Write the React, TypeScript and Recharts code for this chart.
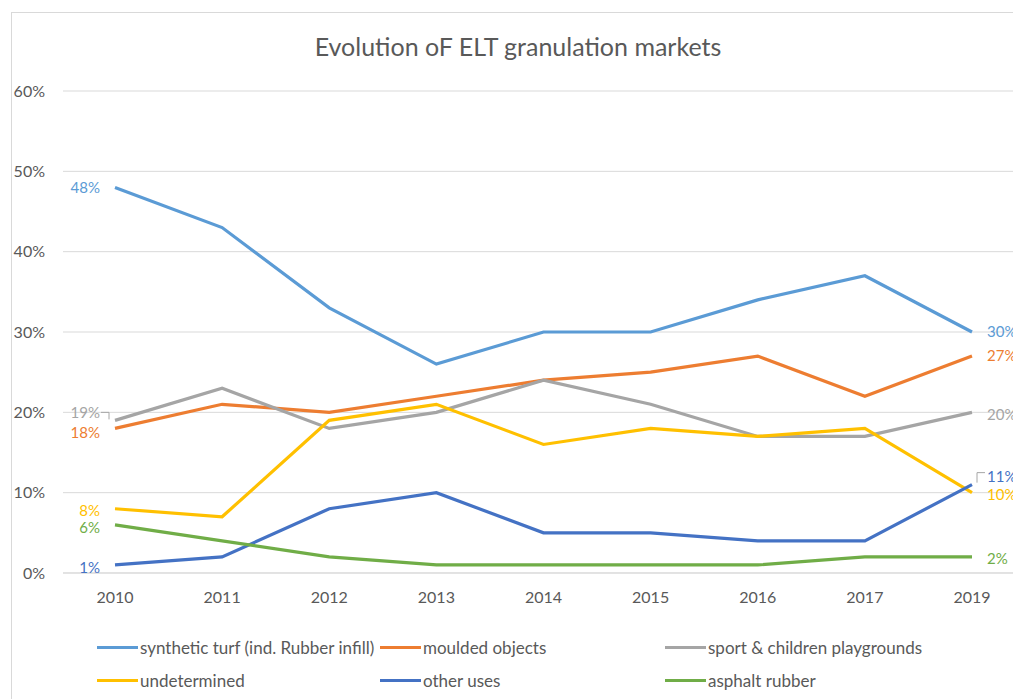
import React from 'react'
import { LineChart, Line, XAxis, YAxis, CartesianGrid, LabelList } from 'recharts'

const years = ['2010', '2011', '2012', '2013', '2014', '2015', '2016', '2017', '2019']
const syntheticTurf = [48, 43, 33, 26, 30, 30, 34, 37, 30]
const mouldedObjects = [18, 21, 20, 22, 24, 25, 27, 22, 27]
const sportPlaygrounds = [19, 23, 18, 20, 24, 21, 17, 17, 20]
const undetermined = [8, 7, 19, 21, 16, 18, 17, 18, 10]
const otherUses = [1, 2, 8, 10, 5, 5, 4, 4, 11]
const asphaltRubber = [6, 4, 2, 1, 1, 1, 1, 2, 2]
const yTicks = [0, 10, 20, 30, 40, 50, 60]

const chartData = years.map((year, i) => ({
  year,
  turf: syntheticTurf[i],
  moulded: mouldedObjects[i],
  sport: sportPlaygrounds[i],
  undetermined: undetermined[i],
  other: otherUses[i],
  asphalt: asphaltRubber[i],
}))

const FONT = 'Lato, "Open Sans", sans-serif'
const TEXT = '#595959'

const series = [
  { key: 'turf', name: 'synthetic turf (ind. Rubber infill)', color: '#5B9BD5', dyL: 0, dyR: 0 },
  { key: 'moulded', name: 'moulded objects', color: '#ED7D31', dyL: 4, dyR: 0 },
  { key: 'sport', name: 'sport & children playgrounds', color: '#A5A5A5', dyL: -8, dyR: 2 },
  { key: 'undetermined', name: 'undetermined', color: '#FFC000', dyL: 2, dyR: 2 },
  { key: 'other', name: 'other uses', color: '#4472C4', dyL: 3, dyR: -8 },
  { key: 'asphalt', name: 'asphalt rubber', color: '#70AD47', dyL: 3, dyR: 2 },
]

const last = years.length - 1

// value labels only on the first and last point, like the Excel original
function endLabel(color: string, dyL: number, dyR: number, key: string) {
  return (props: any) => {
    const { x, y, index, value } = props
    if (index !== 0 && index !== last) return null
    const isLeft = index === 0
    const ly = y + (isLeft ? dyL : dyR)
    const tx = isLeft ? x - 15 : x + 15
    let leader = null
    if (isLeft && key === 'sport') {
      leader = <path d={`M ${x - 14} ${ly} H ${x - 6} V ${y - 1}`} stroke="#A6A6A6" fill="none" strokeWidth={1} />
    }
    if (!isLeft && key === 'other') {
      leader = <path d={`M ${x + 5} ${y - 2} V ${ly - 4} H ${x + 13}`} stroke="#A6A6A6" fill="none" strokeWidth={1} />
    }
    return (
      <g>
        {leader}
        <text x={tx} y={ly} dy="0.35em" textAnchor={isLeft ? 'end' : 'start'} fill={color} fontSize={15} fontFamily={FONT}>
          {value}%
        </text>
      </g>
    )
  }
}

const legendCols = [97, 380, 665]
const legendRows = [647, 680]

export default function App() {
  return (
    <div style={{ position: 'absolute', left: 0, top: 0, width: 1013, height: 699, overflow: 'hidden', background: '#fff' }}>
      <div style={{ position: 'absolute', left: 11, top: 12, width: 1100, height: 800, border: '1px solid #d9d9d9' }} />
      <div
        style={{
          position: 'absolute',
          left: 0,
          width: 1036,
          top: 31,
          lineHeight: '30px',
          textAlign: 'center',
          fontFamily: FONT,
          fontSize: 25,
          color: TEXT,
        }}
      >
        Evolution oF ELT granulation markets
      </div>
      <div style={{ position: 'absolute', left: 0, top: 0 }}>
        <LineChart width={1013} height={699} data={chartData} margin={{ top: 91, right: 0, left: 0, bottom: 86 }}>
          <CartesianGrid vertical={false} stroke="#d9d9d9" strokeWidth={1} />
          <XAxis
            dataKey="year"
            height={40}
            padding={{ left: 52, right: 41 }}
            axisLine={{ stroke: '#d9d9d9' }}
            tickLine={false}
            tickSize={0}
            tickMargin={19}
            tick={{ fill: TEXT, fontSize: 16, fontFamily: FONT }}
          />
          <YAxis
            width={63}
            domain={[0, 60]}
            ticks={yTicks}
            tickFormatter={(v: number) => `${v}%`}
            axisLine={false}
            tickLine={false}
            tickSize={0}
            tickMargin={18}
            tick={{ fill: TEXT, fontSize: 16, fontFamily: FONT }}
          />
          {series.map((s) => (
            <Line
              key={s.key}
              dataKey={s.key}
              name={s.name}
              stroke={s.color}
              strokeWidth={3.2}
              dot={false}
              type="linear"
              isAnimationActive={false}
            >
              <LabelList dataKey={s.key} content={endLabel(s.color, s.dyL, s.dyR, s.key)} />
            </Line>
          ))}
        </LineChart>
      </div>
      {series.map((s, i) => (
        <div
          key={s.key}
          style={{
            position: 'absolute',
            left: legendCols[i % 3],
            top: legendRows[Math.floor(i / 3)] - 11,
            height: 22,
            display: 'flex',
            alignItems: 'center',
            fontFamily: FONT,
            fontSize: 17,
            color: TEXT,
            whiteSpace: 'nowrap',
          }}
        >
          <span style={{ display: 'inline-block', width: 41, height: 3, background: s.color, marginRight: 2 }} />
          {s.name}
        </div>
      ))}
    </div>
  )
}
